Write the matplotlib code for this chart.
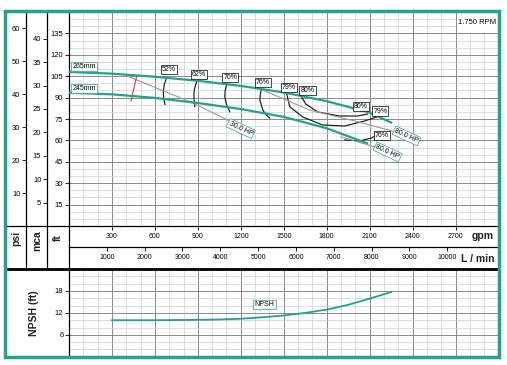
import numpy as np
import matplotlib
matplotlib.use("Agg")
import matplotlib.pyplot as plt
from matplotlib.patches import Rectangle
from matplotlib.lines import Line2D

plt.rcParams['font.family'] = ['Liberation Sans', 'DejaVu Sans']

# --- dati ---
gpm_265 = [0, 300, 600, 900, 1200, 1500, 1800, 2100, 2250]
head_265 = [108.0, 106.8, 104.6, 101.8, 98.2, 93.6, 87.5, 79.5, 72.5]
gpm_245 = [0, 300, 600, 900, 1200, 1500, 1800, 2080]
head_245 = [93.4, 92.3, 89.8, 86.2, 82.0, 76.5, 68.5, 58.0]

# linee di iso-rendimento (gpm, ft)
eff_lines = [
    ([682, 666, 659, 661, 670], [103.9, 99.5, 94.6, 89.7, 85.2]),          # 52%
    ([891, 878, 872, 874, 879], [101.1, 96.7, 92.5, 88.3, 83.6]),          # 62%
    ([1100, 1090, 1088, 1099, 1123], [98.8, 94.6, 90.6, 85.5, 80.1]),      # 70%
    ([1344, 1336, 1333, 1354, 1374, 1402], [96.0, 92.2, 88.3, 81.3, 78.2, 75.7]),  # 76%
    ([1519, 1542, 1633, 1772, 1926, 2065, 2149], [93.2, 83.6, 76.4, 70.8, 70.1, 73.6, 76.4]),  # 79%
    ([1612, 1654, 1737, 1891, 2016, 2086], [92.5, 85.5, 79.9, 77.1, 77.1, 78.5]),  # 80%
    ([1926, 2030, 2114, 2142], [60.3, 59.6, 61.7, 63.4]),                  # 76% (245)
]
eff_labels = ['52%', '62%', '70%', '76%', '79%', '80%', '80%', '79%', '76%']
eff_label_gpm = [698, 906, 1127, 1354, 1538, 1666, 2037, 2175, 2184]
eff_label_head = [109.6, 106.3, 103.9, 100.4, 97.1, 94.8, 83.6, 80.6, 63.6]

# linee di potenza
hp_lines = [
    ([402, 844, 1123], [105.3, 87.1, 73.6]),
    ([1353, 1681, 2000, 2281], [95.3, 81.3, 73.5, 65.9]),
    ([1900, 2050, 2200], [62.5, 58.0, 53.5]),
]
hp_labels = ['30.0 HP', '80.0 HP', '80.0 HP']
hp_label_gpm = [1200, 2358, 2226]
hp_label_head = [68.3, 63.1, 51.9]

# linea rossa (portata minima)
red_gpm = [433, 472]
red_head = [87.6, 104.6]

# NPSH
npsh_gpm = [300, 600, 900, 1050, 1200, 1350, 1500, 1650, 1800, 1950, 2100, 2250]
npsh_ft = [10.0, 10.0, 10.1, 10.2, 10.4, 10.8, 11.3, 12.0, 12.9, 14.2, 15.9, 17.7]

gpm_ticks = [300, 600, 900, 1200, 1500, 1800, 2100, 2400, 2700]
lmin_ticks = [1000, 2000, 3000, 4000, 5000, 6000, 7000, 8000, 9000, 10000]
ft_ticks = [15, 30, 45, 60, 75, 90, 105, 120, 135]
psi_ticks = [10, 20, 30, 40, 50, 60]
mca_ticks = [5, 10, 15, 20, 25, 30, 35, 40]
npsh_ticks = [6, 12, 18]

teal = '#22a38d'
W, H = 507, 365


def fx(x):
    return x / W


def fy(y):
    return 1 - y / H


fig = plt.figure(figsize=(W / 100, H / 100), dpi=100)
fig.patch.set_facecolor('white')

L, R = 69, 498.5
ax = fig.add_axes([fx(L), fy(226), (R - L) / W, (226 - 12) / H])
ax.set_xlim(0, 3000)
ax.set_ylim(0, 150)
ax.set_xticks(np.arange(0, 3001, 300))
ax.set_xticklabels([str(v) if v in gpm_ticks else '' for v in range(0, 3001, 300)])
ax.set_xticks(np.arange(0, 3001, 100), minor=True)
ax.set_yticks(np.arange(0, 151, 15))
ax.set_yticklabels([str(v) if v in ft_ticks else '' for v in range(0, 151, 15)])
ax.set_yticks(np.arange(0, 151, 5), minor=True)
ax.grid(which='major', color='#8a8a8a', lw=0.7)
ax.grid(which='minor', color='#d0d0d0', lw=0.5)
ax.set_axisbelow(True)
ax.tick_params(which='minor', length=0)
ax.tick_params(axis='y', which='major', direction='out', length=3, width=0.6,
               labelsize=5.5, pad=1)
ax.tick_params(axis='x', which='major', direction='out', length=3, width=0.6,
               labelsize=5, pad=2)
for s in ['top', 'right']:
    ax.spines[s].set_visible(False)
ax.spines['left'].set_linewidth(0.9)
ax.spines['bottom'].set_linewidth(0.9)

sec_psi = ax.secondary_yaxis((26 - L) / (R - L),
                             functions=(lambda f: f / 2.31, lambda p: p * 2.31))
sec_psi.set_yticks(psi_ticks)
sec_mca = ax.secondary_yaxis((47 - L) / (R - L),
                             functions=(lambda f: f / 3.281, lambda m: m * 3.281))
sec_mca.set_yticks(mca_ticks)
for sa in (sec_psi, sec_mca):
    sa.tick_params(direction='out', length=3, width=0.6, labelsize=5.5, pad=1)
    sa.spines['left'].set_linewidth(0.9)

sec_l = ax.secondary_xaxis(-(247 - 226) / (226 - 12),
                           functions=(lambda q: q * 3.785, lambda l: l / 3.785))
sec_l.set_xticks(lmin_ticks)
sec_l.tick_params(direction='out', length=3, width=0.6, labelsize=5, pad=2)
sec_l.spines['bottom'].set_linewidth(0.9)

# curve
ax.plot(gpm_265, head_265, color=teal, lw=1.6, zorder=4)
ax.plot(gpm_245, head_245, color=teal, lw=1.6, zorder=4)
for q, h in eff_lines:
    ax.plot(q, h, color='#1a1a1a', lw=0.85, zorder=3)
for q, h in hp_lines:
    ax.plot(q, h, color='#9a9a9a', lw=0.8, zorder=3)
ax.plot(red_gpm, red_head, color='#e03a3a', lw=0.8, zorder=3)

for t, q, h in zip(eff_labels, eff_label_gpm, eff_label_head):
    ax.text(q, h, t, fontsize=5, ha='center', va='center', zorder=6,
            bbox=dict(boxstyle='square,pad=0.15', fc='white', ec='black', lw=0.5))
for t, q, h in zip(hp_labels, hp_label_gpm, hp_label_head):
    ax.text(q, h, t, fontsize=5, ha='center', va='center', rotation=-25,
            rotation_mode='anchor', zorder=6,
            bbox=dict(boxstyle='square,pad=0.15', fc='white', ec=teal, lw=0.5))
ax.text(22, 112, '265mm', fontsize=5, ha='left', va='center', zorder=6,
        bbox=dict(boxstyle='square,pad=0.15', fc='white', ec=teal, lw=0.5))
ax.text(22, 96.5, '245mm', fontsize=5, ha='left', va='center', zorder=6,
        bbox=dict(boxstyle='square,pad=0.15', fc='white', ec=teal, lw=0.5))

ax.add_patch(Rectangle((2700, 135), 300, 15, fc='white', ec='#8a8a8a', lw=0.7, zorder=2))
ax.text(2850, 142.5, '1.750 RPM', fontsize=5.5, ha='center', va='center', zorder=6)

# NPSH
ax2 = fig.add_axes([fx(L), fy(356.8), (R - L) / W, (356.8 - 269) / H])
ax2.set_xlim(0, 3000)
ax2.set_ylim(0, 24)
ax2.set_xticks(np.arange(0, 3001, 300))
ax2.set_xticks(np.arange(0, 3001, 100), minor=True)
ax2.set_yticks(np.arange(0, 25, 6))
ax2.set_yticklabels([str(v) if v in npsh_ticks else '' for v in range(0, 25, 6)])
ax2.set_yticks(np.arange(0, 25, 2), minor=True)
ax2.grid(which='major', color='#8a8a8a', lw=0.7)
ax2.grid(which='minor', color='#d0d0d0', lw=0.5)
ax2.set_axisbelow(True)
ax2.tick_params(which='minor', length=0)
ax2.tick_params(axis='x', which='major', length=0, labelbottom=False)
ax2.tick_params(axis='y', which='major', direction='out', length=3, width=0.6,
                labelsize=5.5, pad=1)
ax2.spines['right'].set_visible(False)
ax2.spines['bottom'].set_visible(False)
ax2.spines['top'].set_linewidth(2)
ax2.spines['left'].set_linewidth(0.9)
ax2.plot(npsh_gpm, npsh_ft, color=teal, lw=1.3, zorder=4)
ax2.text(1365, 14.3, 'NPSH', fontsize=5, ha='center', va='center', zorder=6,
         bbox=dict(boxstyle='square,pad=0.2', fc='white', ec=teal, lw=0.5))

# linee del riquadro
def fline(x0, y0, x1, y1, lw=0.9):
    fig.add_artist(Line2D([fx(x0), fx(x1)], [fy(y0), fy(y1)], color='black', lw=lw,
                          transform=fig.transFigure))


fline(4.5, 226, L, 226)
fline(4.5, 269, L, 269, lw=2)
for xx in (26, 47, L):
    fline(xx, 226, xx, 269)

txt = dict(fontsize=7.5, fontweight='bold', color='#222222', ha='center', va='center')
fig.text(fx(16.7), fy(238.8), 'psi', rotation=90, **txt)
fig.text(fx(37.5), fy(240.5), 'mca', rotation=90, **txt)
fig.text(fx(58.3), fy(237.3), 'ft', rotation=90, **txt)
fig.text(fx(34.2), fy(313.3), 'NPSH (ft)', rotation=90, **txt)
fig.text(fx(483), fy(236.5), 'gpm', **txt)
fig.text(fx(477.5), fy(258.5), 'L / min', **txt)

fig.add_artist(Rectangle((fx(4.5), fy(356.7)), (498.5 - 4.5) / W, (356.7 - 11) / H,
                         transform=fig.transFigure, fill=False, ec=teal, lw=2.5,
                         zorder=10))

fig.savefig('out.png', dpi=100)
